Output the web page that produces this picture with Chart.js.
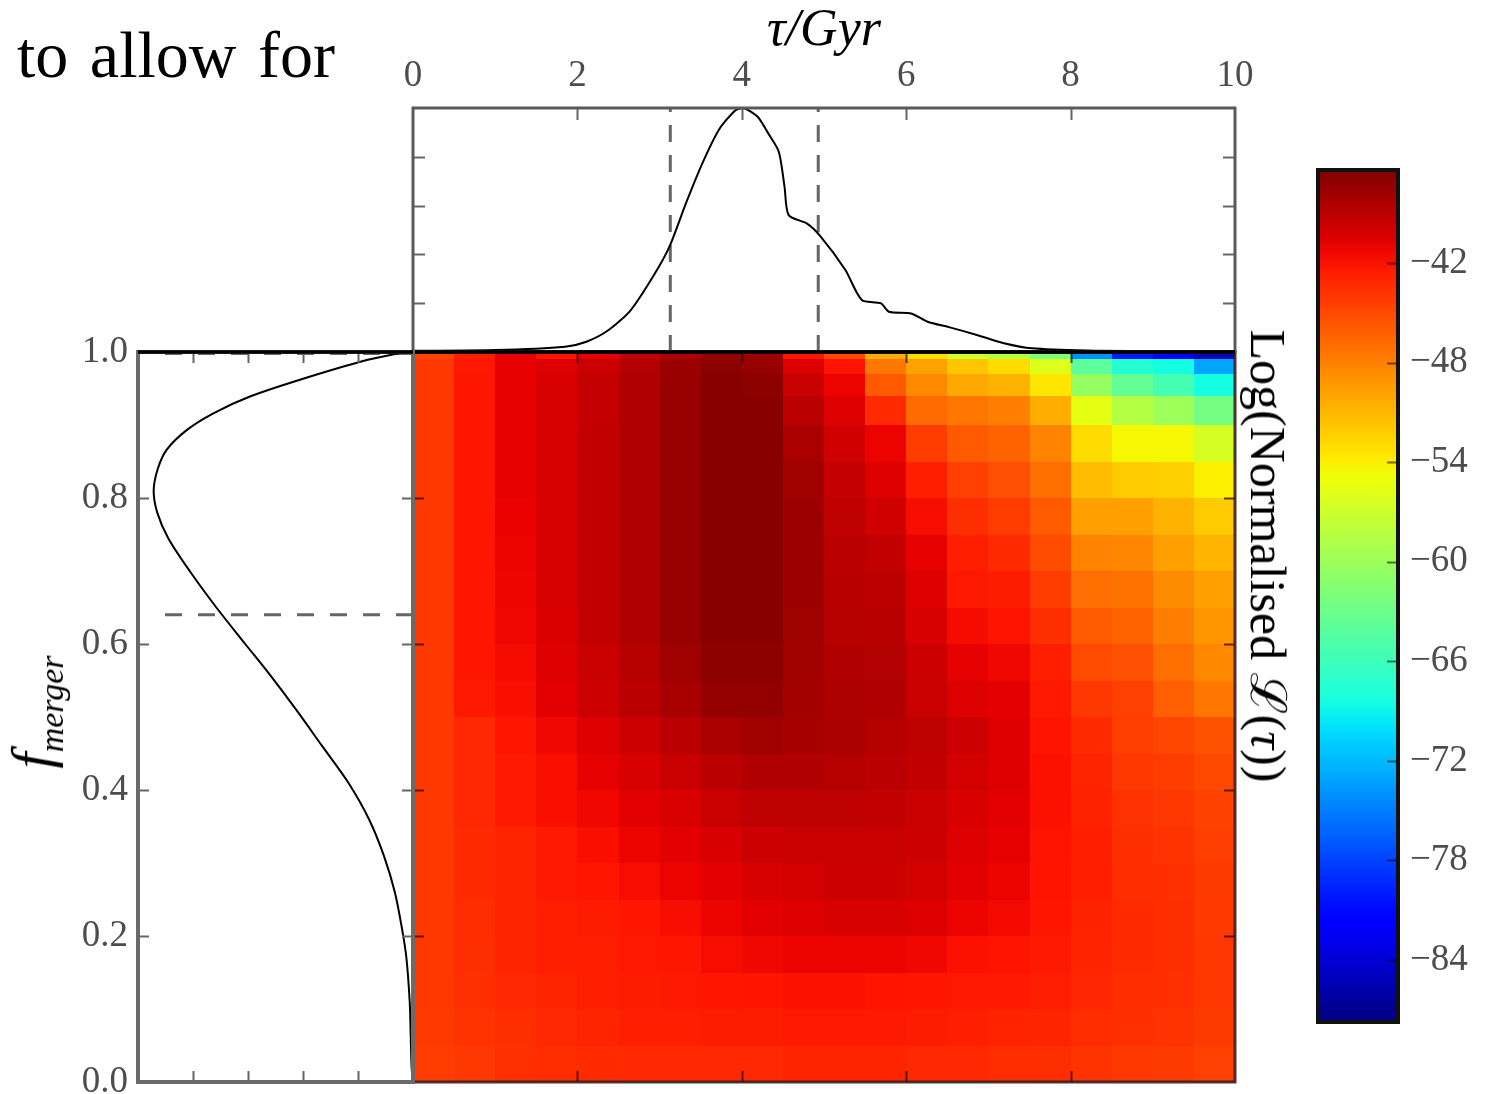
<!DOCTYPE html>
<html>
<head>
<meta charset="utf-8">
<script src="https://cdn.jsdelivr.net/npm/chart.js"></script>
<style>
  body { margin: 0; background: #fff; }
  #wrap { position: relative; width: 1486px; height: 1094px; overflow: hidden; }
  canvas { position: absolute; left: 0; top: 0; }
  .txt { position: absolute; font-family: 'Liberation Serif', serif; color: #000; white-space: nowrap; }
  #intro { left: 17px; top: 22px; font-size: 66px; line-height: 66px; word-spacing: 5px; }
  #fLabel { left: 42px; top: 712px; font-size: 58px; line-height: 64px; transform: translate(-50%, -50%) rotate(-90deg); }
  #fLabel sub { font-size: 34px; vertical-align: -12px; }
  #cbLabel { left: 1268px; top: 556px; font-size: 50px; line-height: 58px; transform: translate(-50%, -50%) rotate(90deg); }
</style>
</head>
<body>
<div id="wrap">
  <canvas id="heat" width="1486" height="1094"></canvas>
  <canvas id="top" width="1486" height="1094"></canvas>
  <canvas id="left" width="1486" height="1140"></canvas>
  <canvas id="cbar" width="1486" height="1094"></canvas>
  <div class="txt" id="intro">to allow for</div>
  <div class="txt" id="fLabel"><i>f</i><sub><i>merger</i></sub></div>
  <div class="txt" id="cbLabel">Log(Normalised ℒ(<i>τ</i>))</div>
</div>
<script>
// ---- data ----
const tauTicks = [0, 2, 4, 6, 8, 10];
const fTicks = [0, 0.2, 0.4, 0.6, 0.8, 1.0];
const cbTicks = [-84, -78, -72, -66, -60, -54, -48, -42];
const vMin = -87.74, vMax = -36.40;

// marginal posterior of tau (top panel)
const tauGrid = [0, 1.0, 1.85, 2.11, 2.38, 2.65, 2.92, 3.12, 3.32, 3.52, 3.72, 3.92, 4.02, 4.19, 4.32, 4.45, 4.52, 4.57, 4.79, 4.96, 5.26, 5.46, 5.69, 5.79, 6.06, 6.26, 6.53, 6.86, 7.19, 7.53, 8.2, 9.0, 10];
const tauPost = [0.005, 0.008, 0.022, 0.042, 0.09, 0.172, 0.309, 0.432, 0.609, 0.773, 0.91, 0.99, 1.0, 0.965, 0.897, 0.821, 0.677, 0.561, 0.527, 0.473, 0.336, 0.213, 0.2, 0.165, 0.158, 0.124, 0.101, 0.07, 0.036, 0.015, 0.006, 0.004, 0.003];
const tauCI = [3.13, 4.93];

// marginal posterior of f_merger (left panel)
const fGrid = [0.0, 0.02, 0.06, 0.11, 0.17, 0.21, 0.26, 0.31, 0.36, 0.41, 0.46, 0.51, 0.56, 0.60, 0.65, 0.70, 0.745, 0.78, 0.81, 0.84, 0.866, 0.893, 0.916, 0.939, 0.962, 0.989, 1.0];
const fPost = [0.0, 0.005, 0.008, 0.012, 0.024, 0.040, 0.066, 0.106, 0.160, 0.235, 0.330, 0.425, 0.525, 0.610, 0.715, 0.812, 0.890, 0.930, 0.943, 0.928, 0.896, 0.823, 0.726, 0.593, 0.411, 0.168, 0.03];
const fCI = [0.64, 0.998];
const postTicks = [0.2, 0.4, 0.6, 0.8];

// heatmap bins and log-likelihood (rows from f=1 down to f=0)
const tauEdges = [0, 0.5, 1, 1.5, 2, 2.5, 3, 3.5, 4, 4.5, 5, 5.5, 6, 6.5, 7, 7.5, 8, 8.5, 9, 9.5, 10];
const fEdges = [1.00, 0.99, 0.97, 0.94, 0.90, 0.85, 0.80, 0.75, 0.70, 0.65, 0.60, 0.55, 0.50, 0.45, 0.40, 0.35, 0.30, 0.25, 0.20, 0.15, 0.10, 0.05, 0.00];
const logL = [
  [-44.5, -42.5, -41.0, -42.0, -41.0, -39.5, -38.5, -37.5, -37.8, -42.2, -45.0, -50.5, -53.0, -57.0, -58.5, -62.0, -74.0, -80.0, -81.5, -85.0],
  [-44.0, -42.3, -41.0, -40.5, -39.6, -38.7, -37.6, -36.9, -37.5, -40.5, -42.0, -47.5, -49.8, -51.8, -53.0, -56.0, -64.0, -67.5, -68.5, -73.0],
  [-44.0, -42.2, -41.0, -40.3, -39.5, -38.6, -37.5, -36.8, -37.0, -39.6, -41.2, -45.9, -48.5, -50.2, -50.7, -53.5, -60.5, -63.6, -65.5, -68.5],
  [-44.0, -42.2, -41.0, -40.3, -39.5, -38.6, -37.5, -36.8, -36.8, -39.0, -40.5, -43.3, -46.8, -47.5, -48.0, -50.5, -55.5, -58.5, -60.0, -62.5],
  [-44.0, -42.2, -41.0, -40.3, -39.4, -38.6, -37.5, -36.8, -36.8, -38.3, -40.0, -41.2, -44.3, -45.9, -46.4, -48.1, -53.0, -54.5, -54.5, -56.5],
  [-44.0, -42.2, -41.0, -40.3, -39.4, -38.6, -37.5, -36.8, -36.8, -37.9, -39.5, -40.6, -42.7, -44.5, -45.3, -47.0, -51.3, -52.0, -52.3, -54.0],
  [-44.0, -42.2, -41.1, -40.3, -39.4, -38.6, -37.5, -36.8, -36.8, -37.7, -39.2, -40.0, -41.7, -43.5, -44.3, -45.9, -49.7, -49.7, -50.7, -52.0],
  [-44.0, -42.2, -41.2, -40.3, -39.4, -38.6, -37.5, -36.8, -36.8, -37.7, -39.0, -39.4, -41.0, -42.7, -43.3, -45.1, -48.1, -48.3, -49.7, -50.8],
  [-44.0, -42.2, -41.3, -40.3, -39.4, -38.6, -37.5, -36.8, -36.8, -37.7, -38.9, -39.1, -40.5, -42.3, -42.5, -44.3, -47.0, -47.2, -48.6, -49.7],
  [-44.0, -42.2, -41.4, -40.4, -39.4, -38.6, -37.5, -36.8, -36.8, -37.8, -38.8, -38.9, -40.3, -41.6, -42.0, -43.5, -45.9, -46.4, -47.8, -49.2],
  [-44.0, -42.2, -41.6, -40.5, -39.6, -38.8, -37.8, -37.0, -37.0, -37.9, -38.6, -38.7, -39.8, -41.0, -41.4, -42.7, -45.1, -45.3, -47.0, -48.4],
  [-44.0, -42.3, -41.8, -40.8, -39.8, -39.0, -38.2, -37.3, -37.3, -38.0, -38.4, -38.6, -39.6, -40.5, -40.9, -42.3, -44.0, -44.5, -46.2, -47.5],
  [-44.0, -43.2, -42.2, -41.4, -40.5, -39.8, -39.0, -38.3, -37.9, -38.1, -38.3, -38.8, -39.2, -39.8, -40.6, -42.0, -43.3, -44.4, -44.8, -45.5],
  [-44.0, -43.2, -42.4, -41.8, -41.0, -40.3, -39.6, -39.0, -38.6, -38.6, -38.8, -39.0, -39.4, -40.1, -40.6, -41.9, -43.0, -44.0, -44.3, -45.0],
  [-44.0, -43.2, -42.4, -41.8, -41.4, -40.8, -40.3, -39.6, -39.2, -39.2, -39.2, -39.4, -39.6, -40.3, -40.8, -41.9, -42.8, -43.7, -44.0, -44.6],
  [-44.0, -43.3, -43.0, -42.4, -41.8, -41.2, -40.8, -40.3, -39.8, -39.6, -39.6, -39.6, -39.8, -40.5, -41.0, -42.0, -42.7, -43.5, -43.8, -44.4],
  [-44.0, -43.3, -43.0, -42.4, -42.2, -41.7, -41.2, -40.8, -40.3, -40.1, -39.8, -39.8, -40.1, -40.8, -41.2, -42.1, -42.7, -43.4, -43.6, -44.2],
  [-44.0, -43.4, -43.0, -42.7, -42.5, -42.2, -41.7, -41.2, -40.8, -40.5, -40.3, -40.3, -40.5, -41.2, -41.5, -42.2, -42.8, -43.3, -43.5, -44.1],
  [-44.0, -43.5, -43.0, -42.7, -42.7, -42.3, -42.2, -41.7, -41.4, -41.2, -41.2, -41.2, -41.4, -41.9, -42.0, -42.4, -42.9, -43.3, -43.5, -44.0],
  [-44.0, -43.6, -43.2, -43.0, -42.7, -42.5, -42.3, -42.2, -42.1, -41.9, -41.9, -42.1, -42.2, -42.3, -42.4, -42.6, -43.1, -43.4, -43.6, -44.0],
  [-44.1, -43.8, -43.5, -43.2, -43.0, -42.7, -42.7, -42.5, -42.5, -42.3, -42.3, -42.3, -42.5, -42.7, -42.9, -43.0, -43.4, -43.6, -43.8, -44.2],
  [-44.3, -44.0, -43.6, -43.4, -43.3, -43.2, -43.2, -43.2, -43.2, -43.0, -43.0, -43.0, -43.2, -43.2, -43.4, -43.5, -43.8, -44.0, -44.2, -44.5]
];

// ---- jet colour map (matplotlib segment data) ----
const jetR = [[0, 0], [0.35, 0], [0.66, 1], [0.89, 1], [1, 0.5]];
const jetG = [[0, 0], [0.125, 0], [0.375, 1], [0.64, 1], [0.91, 0], [1, 0]];
const jetB = [[0, 0.5], [0.11, 1], [0.34, 1], [0.65, 0], [1, 0]];
function seg(pts, t) {
  for (let i = 1; i < pts.length; i++) {
    if (t <= pts[i][0]) {
      const [x0, y0] = pts[i - 1], [x1, y1] = pts[i];
      return y0 + (y1 - y0) * (t - x0) / (x1 - x0);
    }
  }
  return pts[pts.length - 1][1];
}
function jetT(t) {
  t = Math.min(1, Math.max(0, t));
  return 'rgb(' + Math.round(255 * seg(jetR, t)) + ',' + Math.round(255 * seg(jetG, t)) + ',' + Math.round(255 * seg(jetB, t)) + ')';
}
function jet(v) { return jetT((v - vMin) / (vMax - vMin)); }

const tickFont = { family: "'Liberation Serif', serif", size: 37 };
const tickColor = '#4d4d4d';

// frame + inward ticks
function frame(opt) {
  return {
    id: 'frame',
    afterDraw(chart) {
      const { ctx, chartArea: a, scales: { x, y } } = chart;
      ctx.save();
      ctx.strokeStyle = opt.tickColor;
      ctx.lineWidth = 2;
      const L = opt.tickLen || 11;
      ctx.beginPath();
      (opt.xTicks || []).forEach(v => {
        const px = Math.round(x.getPixelForValue(v)) + 0.5;
        if (opt.sides.includes('b')) { ctx.moveTo(px, a.bottom); ctx.lineTo(px, a.bottom - L); }
        if (opt.sides.includes('t')) { ctx.moveTo(px, a.top); ctx.lineTo(px, a.top + L); }
      });
      (opt.yTicks || []).forEach(v => {
        const py = Math.round(y.getPixelForValue(v)) + 0.5;
        if (opt.sides.includes('l')) { ctx.moveTo(a.left, py); ctx.lineTo(a.left + L, py); }
        if (opt.sides.includes('r')) { ctx.moveTo(a.right, py); ctx.lineTo(a.right - L, py); }
      });
      ctx.stroke();
      ctx.strokeStyle = opt.frameColor;
      ctx.lineWidth = opt.frameWidth;
      ctx.strokeRect(a.left, a.top, a.right - a.left, a.bottom - a.top);
      if (opt.topLine) {
        ctx.strokeStyle = opt.topLine;
        ctx.lineWidth = 3.5;
        ctx.beginPath(); ctx.moveTo(a.left, a.top); ctx.lineTo(a.right, a.top); ctx.stroke();
      }
      if (opt.bottomLine) {
        ctx.strokeStyle = opt.bottomLine;
        ctx.lineWidth = 3.5;
        ctx.beginPath(); ctx.moveTo(a.left, a.bottom); ctx.lineTo(a.right, a.bottom); ctx.stroke();
      }
      ctx.restore();
    }
  };
}

// ---- heatmap ----
new Chart(document.getElementById('heat'), {
  type: 'scatter',
  data: { datasets: [] },
  options: {
    responsive: false, animation: false,
    layout: { padding: { left: 413, right: 251, top: 352, bottom: 12 } },
    plugins: { legend: { display: false }, tooltip: { enabled: false } },
    scales: {
      x: { type: 'linear', min: 0, max: 10, display: false },
      y: { type: 'linear', min: 0, max: 1, display: false }
    }
  },
  plugins: [{
    id: 'cells',
    beforeDatasetsDraw(chart) {
      const { ctx, scales: { x, y } } = chart;
      for (let i = 0; i < logL.length; i++) {
        const y0 = Math.round(y.getPixelForValue(fEdges[i]));
        const y1 = Math.round(y.getPixelForValue(fEdges[i + 1]));
        for (let j = 0; j < logL[i].length; j++) {
          const x0 = Math.round(x.getPixelForValue(tauEdges[j]));
          const x1 = Math.round(x.getPixelForValue(tauEdges[j + 1]));
          ctx.fillStyle = jet(logL[i][j]);
          ctx.fillRect(x0, Math.min(y0, y1), x1 - x0, Math.abs(y1 - y0));
        }
      }
    }
  }, frame({ xTicks: [2, 4, 6, 8], yTicks: [0.2, 0.4, 0.6, 0.8], sides: 'btlr', tickColor: 'rgba(40,10,10,0.75)', frameColor: 'rgba(60,30,30,0.9)', frameWidth: 3, topLine: '#000' })]
});

// ---- top marginal: tau ----
new Chart(document.getElementById('top'), {
  type: 'scatter',
  data: {
    datasets: [{
      data: tauGrid.map((t, i) => ({ x: t, y: tauPost[i] })),
      showLine: true, borderColor: '#000', borderWidth: 2, pointRadius: 0, tension: 0.25
    }]
  },
  options: {
    responsive: false, animation: false,
    layout: { padding: { left: 413, right: 251, top: 0, bottom: 742 } },
    plugins: { legend: { display: false }, tooltip: { enabled: false } },
    scales: {
      x: {
        type: 'linear', position: 'top', min: 0, max: 10,
        afterBuildTicks: s => { s.ticks = tauTicks.map(v => ({ value: v })); },
        afterFit: s => { s.height = 108; },
        grid: { display: false, drawTicks: false },
        border: { display: false },
        ticks: { font: tickFont, color: tickColor, padding: 10, maxRotation: 0, callback: v => String(v) },
        title: { display: true, text: 'τ/Gyr', font: { family: "'Liberation Serif', serif", size: 52, style: 'italic' }, color: '#000', padding: { top: 0, bottom: 0 } }
      },
      y: { type: 'linear', min: 0, max: 1, display: false }
    }
  },
  plugins: [{
    id: 'ci',
    beforeDatasetsDraw(chart) {
      const { ctx, chartArea: a, scales: { x } } = chart;
      ctx.save();
      ctx.strokeStyle = '#666'; ctx.lineWidth = 3; ctx.setLineDash([17, 13]);
      tauCI.forEach(t => {
        const px = x.getPixelForValue(t);
        ctx.beginPath(); ctx.moveTo(px, a.bottom); ctx.lineTo(px, a.top); ctx.stroke();
      });
      ctx.restore();
    }
  }, frame({ xTicks: [2, 4, 6, 8], yTicks: [0.2, 0.4, 0.6, 0.8], sides: 'tlr', tickColor: '#666', frameColor: '#5a5a5a', frameWidth: 3, tickLen: 12, bottomLine: '#000' })]
});

// ---- left marginal: f_merger ----
new Chart(document.getElementById('left'), {
  type: 'scatter',
  data: {
    datasets: [{
      data: fGrid.map((f, i) => ({ x: fPost[i], y: f })),
      showLine: true, borderColor: '#000', borderWidth: 2, pointRadius: 0, tension: 0.3
    }]
  },
  options: {
    responsive: false, animation: false,
    layout: { padding: { left: 0, right: 1073, top: 352, bottom: 58 } },
    plugins: { legend: { display: false }, tooltip: { enabled: false } },
    scales: {
      x: { type: 'linear', min: 0, max: 1, reverse: true, display: false },
      y: {
        type: 'linear', position: 'left', min: 0, max: 1,
        afterBuildTicks: s => { s.ticks = fTicks.map(v => ({ value: v })); },
        afterFit: s => { s.width = 138; },
        grid: { display: false, drawTicks: false },
        border: { display: false },
        ticks: { font: tickFont, color: tickColor, padding: 10, callback: v => v.toFixed(1) }
      }
    }
  },
  plugins: [{
    id: 'ci',
    beforeDatasetsDraw(chart) {
      const { ctx, chartArea: a, scales: { y } } = chart;
      ctx.save();
      ctx.strokeStyle = '#666'; ctx.lineWidth = 3; ctx.setLineDash([17, 16]);
      fCI.forEach(f => {
        const py = y.getPixelForValue(f);
        ctx.beginPath(); ctx.moveTo(a.right, py); ctx.lineTo(a.left + 20, py); ctx.stroke();
      });
      ctx.restore();
    }
  }, frame({ xTicks: postTicks, yTicks: [0.2, 0.4, 0.6, 0.8], sides: 'btlr', tickColor: '#666', frameColor: '#6a6a6a', frameWidth: 4, tickLen: 11, topLine: '#000' })]
});

// ---- colour bar ----
new Chart(document.getElementById('cbar'), {
  type: 'scatter',
  data: { datasets: [] },
  options: {
    responsive: false, animation: false,
    layout: { padding: { left: 1318, right: 0, top: 170, bottom: 72 } },
    plugins: { legend: { display: false }, tooltip: { enabled: false } },
    scales: {
      x: { type: 'linear', min: 0, max: 1, display: false },
      y: {
        type: 'linear', position: 'right', min: vMin, max: vMax,
        afterBuildTicks: s => { s.ticks = cbTicks.map(v => ({ value: v })); },
        afterFit: s => { s.width = 88; },
        grid: { display: false, drawTicks: false },
        border: { display: false },
        ticks: { font: tickFont, color: tickColor, padding: 12, callback: v => '\u2212' + Math.abs(v) }
      }
    }
  },
  plugins: [{
    id: 'gradient',
    beforeDatasetsDraw(chart) {
      const { ctx, chartArea: a, scales: { y } } = chart;
      const y0 = y.getPixelForValue(vMin), y1 = y.getPixelForValue(vMax);
      const g = ctx.createLinearGradient(0, y0, 0, y1);
      for (let k = 0; k <= 50; k++) g.addColorStop(k / 50, jetT(k / 50));
      ctx.fillStyle = g;
      ctx.fillRect(a.left, y1, a.right - a.left, y0 - y1);
    }
  }, frame({ yTicks: cbTicks, sides: 'r', tickColor: 'rgba(0,0,0,0.55)', frameColor: '#111', frameWidth: 4, tickLen: 11 })]
});
</script>
</body>
</html>
